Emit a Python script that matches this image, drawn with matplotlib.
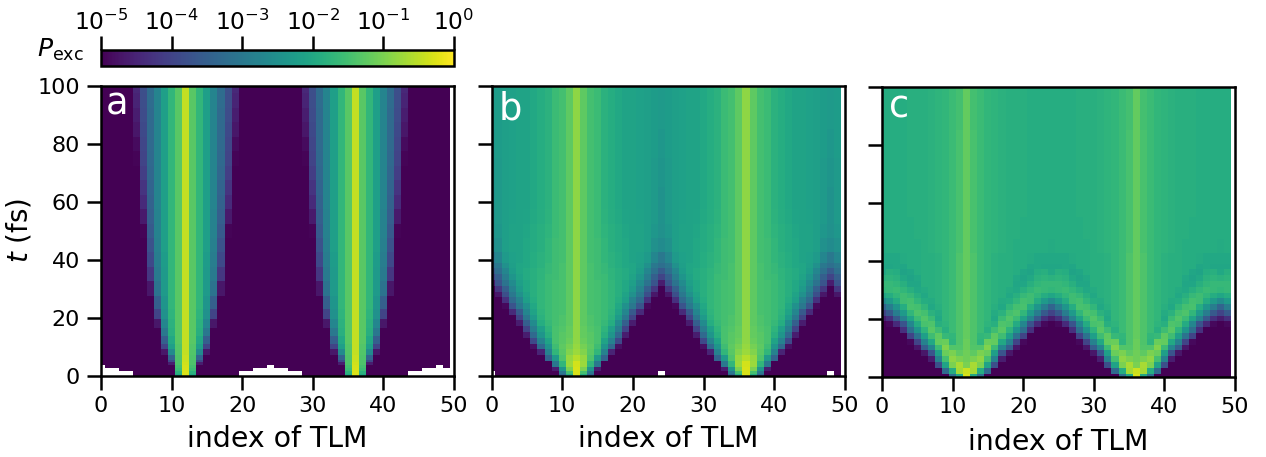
import numpy as np
import matplotlib
matplotlib.use("Agg")
import matplotlib.pyplot as plt
from matplotlib.colors import LogNorm

X = np.nan
n_tlm = 50
emitters = [12, 36, 60]
panel_labels = ["a", "b", "c"]
xticks = [0, 10, 20, 30, 40, 50]
yticks = [0, 20, 40, 60, 80, 100]

# log10(P_exc), columns: distance 0..13 from nearest emitter
times_a = [0, 1, 2, 3, 4, 5, 6, 8, 10, 12, 15, 18, 21, 25, 30, 35, 40, 45, 50, 55, 60, 65, 70, 75, 80, 85, 90, 95, 100]
log_a = [
    [-0.28, -2.0, -5, -5, -5, -5, -5, -5, X, X, X, X, X, X],
    [-0.28, -1.8, -5, -5, -5, -5, -5, -5, X, X, X, X, X, X],
    [-0.30, -1.6, -5, -5, -5, -5, -5, -5, -5, -5, X, X, X, X],
    [-0.33, -1.5, -5, -5, -5, -5, -5, -5, -5, -5, -5, -5, X, X],
    [-0.36, -1.4, -4.6, -5, -5, -5, -5, -5, -5, -5, -5, -5, -5, X],
    [-0.40, -1.4, -3.9, -5, -5, -5, -5, -5, -5, -5, -5, -5, -5, -5],
    [-0.42, -1.4, -3.4, -5, -5, -5, -5, -5, -5, -5, -5, -5, -5, -5],
    [-0.45, -1.35, -2.6, -4.7, -5, -5, -5, -5, -5, -5, -5, -5, -5, -5],
    [-0.45, -1.35, -2.2, -4.0, -5, -5, -5, -5, -5, -5, -5, -5, -5, -5],
    [-0.45, -1.3, -2.0, -3.5, -5, -5, -5, -5, -5, -5, -5, -5, -5, -5],
    [-0.45, -1.3, -1.85, -3.0, -5, -5, -5, -5, -5, -5, -5, -5, -5, -5],
    [-0.45, -1.3, -1.8, -2.7, -4.7, -5, -5, -5, -5, -5, -5, -5, -5, -5],
    [-0.45, -1.3, -1.75, -2.5, -4.0, -5, -5, -5, -5, -5, -5, -5, -5, -5],
    [-0.45, -1.3, -1.7, -2.4, -3.5, -5, -5, -5, -5, -5, -5, -5, -5, -5],
    [-0.45, -1.3, -1.7, -2.3, -3.1, -4.7, -5, -5, -5, -5, -5, -5, -5, -5],
    [-0.45, -1.3, -1.7, -2.3, -2.95, -4.2, -5, -5, -5, -5, -5, -5, -5, -5],
    [-0.45, -1.3, -1.7, -2.25, -2.9, -3.9, -5, -5, -5, -5, -5, -5, -5, -5],
    [-0.45, -1.3, -1.7, -2.2, -2.85, -3.75, -5, -5, -5, -5, -5, -5, -5, -5],
    [-0.45, -1.3, -1.7, -2.2, -2.8, -3.6, -4.95, -5, -5, -5, -5, -5, -5, -5],
    [-0.45, -1.3, -1.7, -2.2, -2.78, -3.5, -4.65, -5, -5, -5, -5, -5, -5, -5],
    [-0.45, -1.3, -1.7, -2.2, -2.75, -3.45, -4.4, -5, -5, -5, -5, -5, -5, -5],
    [-0.45, -1.3, -1.7, -2.2, -2.75, -3.4, -4.25, -5, -5, -5, -5, -5, -5, -5],
    [-0.45, -1.3, -1.7, -2.2, -2.75, -3.35, -4.1, -5, -5, -5, -5, -5, -5, -5],
    [-0.45, -1.3, -1.7, -2.2, -2.75, -3.32, -4.0, -4.95, -5, -5, -5, -5, -5, -5],
    [-0.45, -1.3, -1.7, -2.2, -2.75, -3.3, -3.95, -4.85, -5, -5, -5, -5, -5, -5],
    [-0.45, -1.3, -1.7, -2.2, -2.75, -3.3, -3.9, -4.7, -5, -5, -5, -5, -5, -5],
    [-0.45, -1.3, -1.7, -2.2, -2.75, -3.3, -3.85, -4.6, -5, -5, -5, -5, -5, -5],
    [-0.45, -1.3, -1.7, -2.2, -2.75, -3.25, -3.82, -4.5, -5, -5, -5, -5, -5, -5],
    [-0.45, -1.3, -1.7, -2.2, -2.75, -3.25, -3.8, -4.45, -5, -5, -5, -5, -5, -5],
]

times_b = [0, 1, 2, 4, 6, 8, 10, 12, 14, 16, 18, 20, 22, 24, 26, 28, 30, 32, 34, 36, 38, 40, 45, 50, 55, 60, 70, 80, 90, 100]
log_b = [
    [-0.3, -1.9, -3.4, -5, -5, -5, -5, -5, -5, -5, -5, -5, X, X],
    [-0.3, -1.5, -3.0, -5, -5, -5, -5, -5, -5, -5, -5, -5, X, X],
    [-0.3, -1.0, -2.4, -4.6, -5, -5, -5, -5, -5, -5, -5, -5, -5, -5],
    [-0.35, -0.75, -1.7, -3.0, -5, -5, -5, -5, -5, -5, -5, -5, -5, -5],
    [-0.55, -0.8, -1.4, -2.3, -3.4, -5, -5, -5, -5, -5, -5, -5, -5, -5],
    [-0.75, -0.95, -1.3, -1.7, -2.8, -4.5, -5, -5, -5, -5, -5, -5, -5, -5],
    [-0.8, -1.05, -1.25, -1.55, -2.4, -3.3, -4.8, -5, -5, -5, -5, -5, -5, -5],
    [-0.85, -1.15, -1.3, -1.45, -2.1, -2.8, -3.9, -5, -5, -5, -5, -5, -5, -5],
    [-0.85, -1.2, -1.3, -1.45, -1.85, -2.4, -3.3, -4.6, -5, -5, -5, -5, -5, -5],
    [-0.85, -1.2, -1.35, -1.45, -1.75, -2.2, -2.9, -4.0, -5, -5, -5, -5, -5, -5],
    [-0.85, -1.25, -1.4, -1.5, -1.65, -1.9, -2.6, -3.5, -4.6, -5, -5, -5, -5, -5],
    [-0.85, -1.25, -1.4, -1.5, -1.6, -1.8, -2.3, -3.0, -4.0, -5, -5, -5, -5, -5],
    [-0.85, -1.25, -1.45, -1.5, -1.6, -1.75, -2.1, -2.7, -3.6, -4.4, -5, -5, -5, -5],
    [-0.85, -1.25, -1.45, -1.5, -1.6, -1.7, -2.0, -2.5, -3.0, -3.7, -4.9, -5, -5, -5],
    [-0.85, -1.25, -1.45, -1.5, -1.6, -1.7, -1.9, -2.2, -2.8, -3.3, -4.3, -5, -5, -5],
    [-0.85, -1.25, -1.45, -1.5, -1.6, -1.7, -1.85, -2.1, -2.5, -3.0, -3.8, -4.7, -5, -5],
    [-0.85, -1.25, -1.45, -1.5, -1.6, -1.7, -1.85, -2.0, -2.3, -2.8, -3.5, -4.2, -5, -5],
    [-0.85, -1.25, -1.45, -1.5, -1.6, -1.7, -1.85, -2.0, -2.2, -2.6, -3.1, -3.7, -4.6, -5],
    [-0.85, -1.25, -1.45, -1.55, -1.6, -1.75, -1.85, -1.95, -2.1, -2.4, -2.9, -3.5, -4.0, -4.9],
    [-0.85, -1.25, -1.45, -1.55, -1.65, -1.75, -1.85, -1.95, -2.05, -2.25, -2.7, -3.2, -3.6, -4.5],
    [-0.85, -1.25, -1.45, -1.55, -1.65, -1.8, -1.9, -2.0, -2.05, -2.2, -2.5, -3.0, -3.2, -4.0],
    [-0.85, -1.25, -1.5, -1.55, -1.7, -1.8, -1.9, -2.0, -2.1, -2.15, -2.3, -2.7, -3.0, -3.6],
    [-0.85, -1.25, -1.5, -1.55, -1.7, -1.85, -1.95, -2.0, -2.1, -2.1, -2.2, -2.5, -2.6, -3.0],
    [-0.85, -1.25, -1.5, -1.6, -1.75, -1.85, -1.95, -2.05, -2.1, -2.1, -2.2, -2.35, -2.5, -2.7],
    [-0.85, -1.25, -1.5, -1.6, -1.78, -1.88, -1.98, -2.08, -2.1, -2.12, -2.2, -2.3, -2.45, -2.6],
    [-0.85, -1.25, -1.5, -1.6, -1.8, -1.9, -2.0, -2.1, -2.1, -2.15, -2.2, -2.3, -2.45, -2.55],
    [-0.85, -1.25, -1.5, -1.6, -1.8, -1.9, -2.0, -2.1, -2.1, -2.15, -2.2, -2.3, -2.4, -2.5],
    [-0.85, -1.25, -1.5, -1.6, -1.8, -1.9, -2.0, -2.1, -2.1, -2.15, -2.2, -2.25, -2.35, -2.5],
    [-0.85, -1.25, -1.5, -1.6, -1.8, -1.9, -2.0, -2.1, -2.1, -2.15, -2.2, -2.25, -2.3, -2.5],
    [-0.85, -1.25, -1.5, -1.6, -1.8, -1.9, -2.0, -2.1, -2.1, -2.15, -2.2, -2.25, -2.3, -2.5],
]

times_c = [0, 2, 4, 6, 8, 10, 12, 14, 16, 18, 20, 22, 24, 26, 28, 30, 32, 34, 36, 38, 40, 45, 50, 60, 70, 80, 90, 100]
log_c = [
    [-0.3, -2.0, -3.2, -5, -5, -5, -5, -5, -5, -5, -5, -5, -5, -5],
    [-0.4, -0.7, -1.9, -3.3, -5, -5, -5, -5, -5, -5, -5, -5, -5, -5],
    [-1.0, -0.65, -1.0, -2.1, -3.8, -5, -5, -5, -5, -5, -5, -5, -5, -5],
    [-1.1, -1.0, -0.85, -1.5, -2.8, -4.6, -5, -5, -5, -5, -5, -5, -5, -5],
    [-1.1, -1.25, -1.0, -1.15, -2.2, -3.7, -4.7, -5, -5, -5, -5, -5, -5, -5],
    [-1.15, -1.35, -1.35, -0.95, -1.6, -2.7, -3.5, -4.7, -5, -5, -5, -5, -5, -5],
    [-1.15, -1.4, -1.75, -1.15, -1.2, -2.0, -2.8, -4.0, -4.9, -5, -5, -5, -5, -5],
    [-1.2, -1.4, -1.7, -1.65, -1.25, -1.55, -2.2, -3.1, -4.0, -5, -5, -5, -5, -5],
    [-1.2, -1.4, -1.6, -1.85, -1.55, -1.3, -1.75, -2.4, -3.2, -4.3, -5, -5, -5, -5],
    [-1.2, -1.4, -1.6, -1.75, -1.85, -1.4, -1.45, -1.95, -2.7, -3.7, -4.4, -4.9, -5, -5],
    [-1.2, -1.4, -1.6, -1.7, -2.0, -1.6, -1.35, -1.6, -2.1, -2.8, -3.6, -4.3, -4.6, -5],
    [-1.2, -1.4, -1.6, -1.7, -1.95, -1.8, -1.5, -1.4, -1.7, -2.3, -2.9, -3.6, -4.0, -4.0],
    [-1.2, -1.4, -1.6, -1.7, -1.85, -2.0, -1.7, -1.5, -1.45, -1.9, -2.4, -2.9, -3.4, -3.2],
    [-1.2, -1.4, -1.6, -1.7, -1.8, -1.95, -1.9, -1.7, -1.5, -1.55, -1.95, -2.3, -2.6, -2.6],
    [-1.2, -1.4, -1.6, -1.7, -1.8, -1.85, -2.0, -1.85, -1.65, -1.55, -1.7, -1.9, -2.05, -2.1],
    [-1.2, -1.4, -1.6, -1.7, -1.8, -1.85, -1.95, -2.0, -1.85, -1.7, -1.6, -1.65, -1.7, -1.75],
    [-1.2, -1.4, -1.6, -1.7, -1.8, -1.85, -1.85, -2.05, -2.05, -1.85, -1.7, -1.65, -1.65, -1.6],
    [-1.2, -1.4, -1.6, -1.7, -1.8, -1.85, -1.85, -2.0, -2.1, -2.0, -1.8, -1.75, -1.8, -1.65],
    [-1.2, -1.4, -1.6, -1.7, -1.8, -1.85, -1.85, -1.9, -2.05, -2.1, -1.9, -1.85, -2.0, -1.85],
    [-1.2, -1.4, -1.6, -1.7, -1.8, -1.85, -1.85, -1.9, -1.9, -2.05, -2.0, -2.05, -2.05, -1.95],
    [-1.2, -1.4, -1.6, -1.7, -1.8, -1.85, -1.85, -1.9, -1.9, -1.95, -2.0, -2.0, -2.0, -1.95],
    [-1.2, -1.45, -1.6, -1.7, -1.75, -1.8, -1.85, -1.9, -1.9, -1.9, -1.9, -1.9, -1.95, -1.95],
    [-1.2, -1.45, -1.6, -1.7, -1.75, -1.8, -1.85, -1.85, -1.9, -1.9, -1.9, -1.9, -1.9, -1.9],
    [-1.2, -1.45, -1.6, -1.7, -1.75, -1.8, -1.85, -1.85, -1.85, -1.9, -1.9, -1.9, -1.9, -1.9],
    [-1.2, -1.45, -1.6, -1.7, -1.75, -1.8, -1.85, -1.85, -1.85, -1.9, -1.9, -1.9, -1.9, -1.9],
    [-1.2, -1.45, -1.6, -1.7, -1.75, -1.8, -1.85, -1.85, -1.85, -1.9, -1.9, -1.9, -1.9, -1.9],
    [-1.2, -1.5, -1.6, -1.7, -1.75, -1.8, -1.85, -1.85, -1.85, -1.9, -1.9, -1.9, -1.9, -1.9],
    [-1.2, -1.5, -1.6, -1.7, -1.75, -1.8, -1.85, -1.85, -1.85, -1.9, -1.9, -1.9, -1.9, -1.9],
]

W, H = 1266, 457
LW = 1.8
plt.rcParams.update({"font.family": "DejaVu Sans", "mathtext.fontset": "dejavusans"})
fig = plt.figure(figsize=(W / 100, H / 100), dpi=100)


def box(x0, y0, x1, y1):
    return [x0 / W, 1 - y1 / H, (x1 - x0) / W, (y1 - y0) / H]


boxes = [box(101, 86, 454, 375.5), box(491.5, 86, 845, 375.5), box(882, 87, 1235, 376.5)]
xlabel_pad = [6, 6, 8]
label_pos = [(0.014, 0.90), (0.02, 0.886), (0.02, 0.893)]
cols = np.arange(n_tlm)
dist = np.min([np.abs(cols - e) for e in emitters], axis=0)
norm = LogNorm(1e-5, 1)
mesh = None
for i, (b, tt, tab) in enumerate(zip(boxes, [times_a, times_b, times_c], [log_a, log_b, log_c])):
    ax = fig.add_axes(b)
    P = 10.0 ** np.array(tab)[:, dist]
    mesh = ax.pcolormesh(cols, tt, P, shading="nearest", cmap="viridis", norm=norm, rasterized=True)
    ax.set_xlim(0, 50)
    ax.set_ylim(0, 100)
    ax.set_xticks(xticks)
    ax.set_yticks(yticks)
    ax.tick_params(axis="both", length=10, width=LW, labelsize=16, pad=5)
    if i > 0:
        ax.set_yticklabels([])
    else:
        ax.set_ylabel(r"$t$ (fs)", fontsize=20, labelpad=3)
    ax.set_xlabel("index of TLM", fontsize=20.4, labelpad=xlabel_pad[i])
    for s in ax.spines.values():
        s.set_linewidth(LW)
    ax.text(label_pos[i][0], label_pos[i][1], panel_labels[i], transform=ax.transAxes,
            color="white", fontsize=26.5, va="baseline", ha="left")

cax = fig.add_axes(box(101, 50, 454, 66))
cb = fig.colorbar(mesh, cax=cax, orientation="horizontal")
cax.xaxis.set_ticks_position("top")
cb.set_ticks([1e-5, 1e-4, 1e-3, 1e-2, 1e-1, 1e0])
cax.minorticks_off()
cax.tick_params(axis="x", length=10, width=LW, labelsize=16.8, pad=1)
cb.outline.set_linewidth(LW)
fig.text(60 / W, 1 - 50 / H, r"$P_{\mathrm{exc}}$", fontsize=18, ha="center", va="center")

fig.savefig("out.png", dpi=100)
